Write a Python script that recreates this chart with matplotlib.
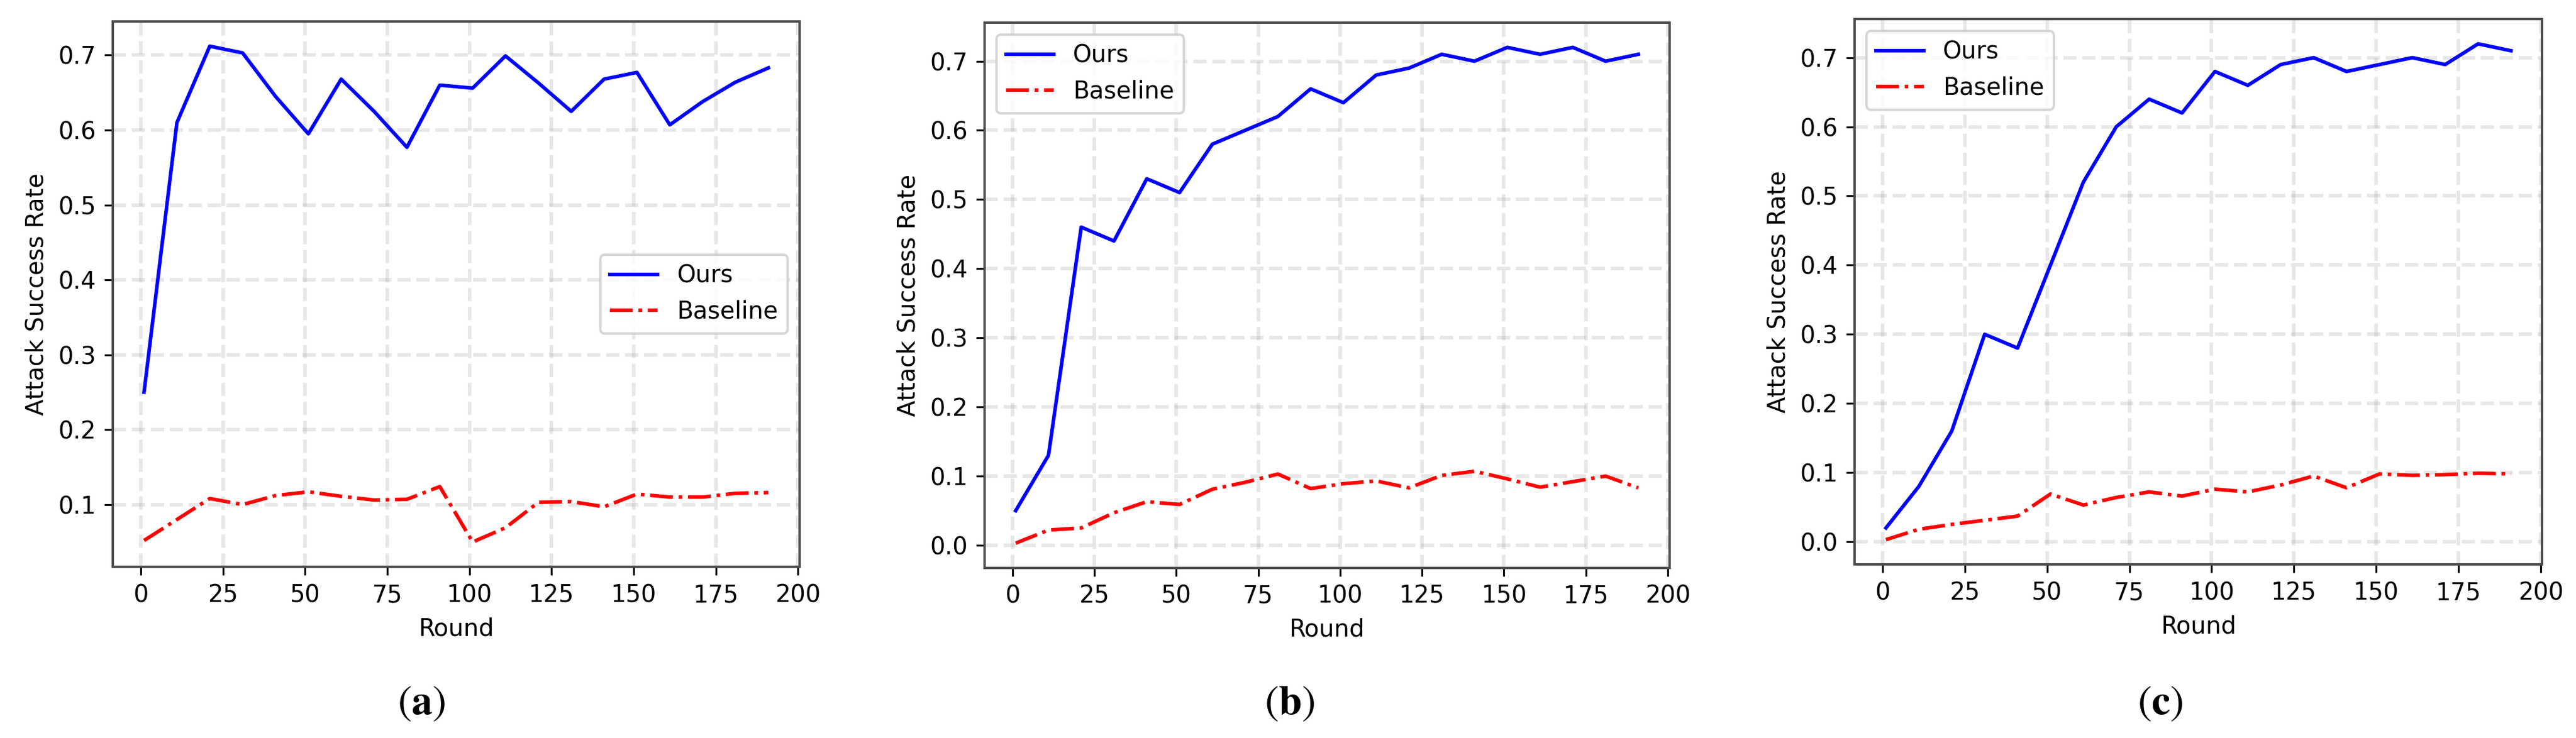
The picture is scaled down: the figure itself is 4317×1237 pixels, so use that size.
import numpy as np
import matplotlib.pyplot as plt

plt.rcParams['mathtext.fontset'] = 'stix'

# rounds sampled every 10 rounds
rounds = np.arange(1, 192, 10)

# panel (a)
ours_a = [0.25, 0.61, 0.712, 0.703, 0.645, 0.595, 0.668, 0.625, 0.577, 0.66,
          0.656, 0.699, 0.663, 0.625, 0.668, 0.677, 0.607, 0.638, 0.664, 0.683]
base_a = [0.052, 0.080, 0.108, 0.100, 0.112, 0.117, 0.111, 0.106, 0.107, 0.124,
          0.050, 0.069, 0.103, 0.104, 0.097, 0.114, 0.110, 0.110, 0.115, 0.116]

# panel (b)
ours_b = [0.05, 0.13, 0.46, 0.44, 0.53, 0.51, 0.58, 0.60, 0.62, 0.66,
          0.64, 0.68, 0.69, 0.71, 0.70, 0.72, 0.71, 0.72, 0.70, 0.71]
base_b = [0.003, 0.022, 0.025, 0.047, 0.063, 0.059, 0.081, 0.091, 0.103, 0.082,
          0.089, 0.093, 0.083, 0.101, 0.107, 0.096, 0.084, 0.092, 0.100, 0.083]

# panel (c)
ours_c = [0.02, 0.08, 0.16, 0.30, 0.28, 0.40, 0.52, 0.60, 0.64, 0.62,
          0.68, 0.66, 0.69, 0.70, 0.68, 0.69, 0.70, 0.69, 0.72, 0.71]
base_c = [0.003, 0.018, 0.025, 0.031, 0.037, 0.069, 0.053, 0.064, 0.072, 0.066,
          0.076, 0.072, 0.082, 0.095, 0.078, 0.098, 0.096, 0.097, 0.099, 0.098]

panels = [
    (ours_a, base_a, 'center right', '(\\mathbf{a})'),
    (ours_b, base_b, 'upper left', '(\\mathbf{b})'),
    (ours_c, base_c, 'upper left', '(\\mathbf{c})'),
]

boxes = [
    [0.0438, 0.232, 0.2666, 0.739],
    [0.3822, 0.2304, 0.2659, 0.739],
    [0.7200, 0.2352, 0.2669, 0.739],
]
caption_x = [0.1635, 0.5006, 0.8386]

fig = plt.figure(figsize=(4317 / 288, 1237 / 288), dpi=288)

for (ours, base, loc, cap), box, cx in zip(panels, boxes, caption_x):
    ax = fig.add_axes(box)
    ax.plot(rounds, ours, color='blue', linestyle='-', label='Ours')
    ax.plot(rounds, base, color='red', linestyle='-.', label='Baseline')
    ax.set_xticks([0, 25, 50, 75, 100, 125, 150, 175, 200])
    ax.set_xlabel('Round')
    ax.set_ylabel('Attack Success Rate')
    ax.grid(True, linestyle='--', linewidth=1.5, alpha=0.3)
    for s in ax.spines.values():
        s.set_color('0.3')
        s.set_linewidth(1.0)
    ax.legend(loc=loc)
    fig.text(cx, 0.0485, '$' + cap + '$', fontsize=17.5,
             ha='center', va='center')

fig.savefig('out.png', dpi=288)
